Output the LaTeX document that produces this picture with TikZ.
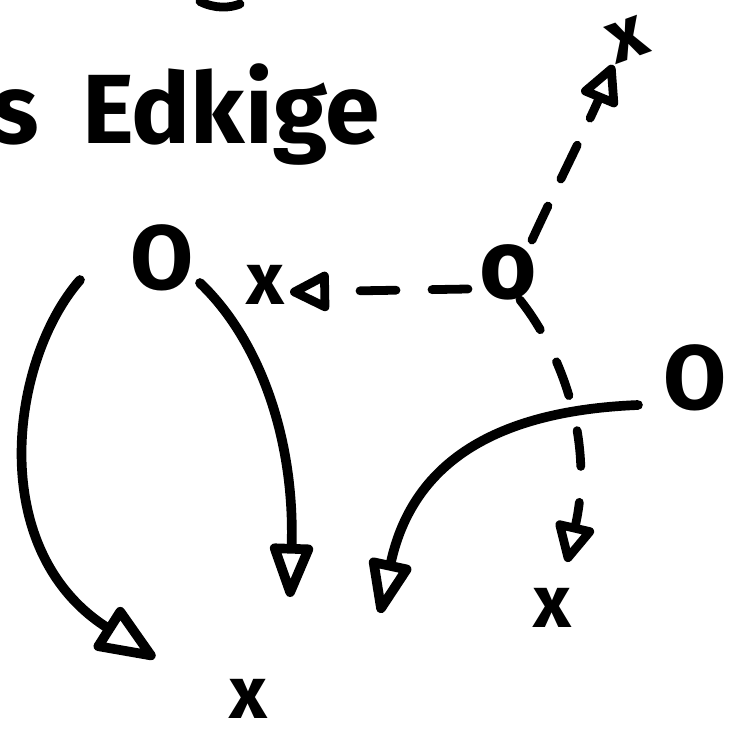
\documentclass[tikz,border=0pt]{standalone}
\usepackage{fontspec}
\setmainfont{Fira Sans}
\usetikzlibrary{arrows.meta,calc}

\begin{document}
\begin{tikzpicture}[
    player/.style={font=\fontsize{52}{52}\selectfont\bfseries,inner sep=1pt},
    smallo/.style={font=\fontsize{56}{56}\selectfont\bfseries,inner sep=1pt},
    cross/.style={font=\fontsize{42}{42}\selectfont\bfseries,inner sep=1pt},
    arr/.style={-{Triangle[open,length=1.25cm,width=0.9cm,round]},line width=5.5pt,line cap=round},
    darr/.style={-{Triangle[open,length=0.9cm,width=0.85cm,round]},line width=5pt,
                 line cap=round,dash pattern=on 0.72cm off 0.72cm}]
    \useasboundingbox (0,0) rectangle (14.76,-14.58);
    \clip (0,0) rectangle (14.76,-14.58);
    % heading, cut at the left edge
    \node[anchor=base west,font=\fontsize{56}{56}\selectfont\bfseries] (title) at (-0.3,-2.86) {s\hspace{0.4cm} Edkige};
    \draw[line width=5pt,line cap=round] (4.0,-0.03) .. controls (4.3,-0.18) and (4.6,-0.16) .. (4.8,-0.08);
    % players
    \node[player] (lo) at (3.24,-5.16) {O};
    \node[player] (ro) at (13.9,-7.56) {O};
    \node[smallo] (co) at (10.16,-5.44) {o};
    \node[cross] (xa) at (5.3,-5.7) {x};
    \node[cross,rotate=20] (xb) at (12.56,-0.8) {x};
    \node[cross] (xc) at (11.04,-12.16) {x};
    \node[cross] (xd) at (4.96,-13.98) {x};
    % arrow ends
    \coordinate (tipa) at (3.1,-13.16);
    \coordinate (tipb) at (5.8,-11.94);
    \coordinate (tipc) at (7.6,-12.26);
    \coordinate (tipd) at (5.8,-5.84);
    \coordinate (tipe) at (12.26,-1.3);
    \coordinate (tipf) at (11.34,-11.24);
    % solid runs
    \draw[arr,-{Triangle[open,length=1.35cm,width=1.05cm,round]}] ($(lo)+(-1.64,-0.44)$) .. controls (0.2,-7.2) and (-0.3,-11) .. (tipa);
    \draw[arr] ($(lo)+(0.76,-0.5)$) .. controls (5.2,-6.8) and (5.9,-8.8) .. (tipb);
    \draw[arr] ($(ro)+(-1.14,-0.54)$) .. controls (10.3,-8.2) and (8.3,-9.0) .. (tipc);
    % dashed runs
    \draw[darr] ($(co)+(-0.8,-0.34)$) -- (tipd);
    \draw[darr,dash pattern=on 0.75cm off 0.6cm] ($(co)+(0.48,0.64)$) .. controls (11.1,-3.8) and (11.8,-2.4) .. (tipe);
    \draw[darr] ($(co)+(0.24,-0.56)$) .. controls (11.2,-7.0) and (11.9,-8.8) .. (tipf);
\end{tikzpicture}
\end{document}
